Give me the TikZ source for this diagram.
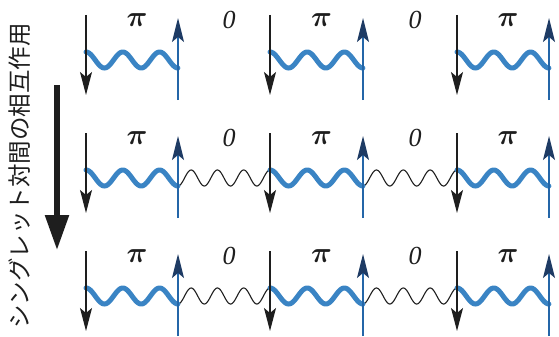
\RequirePackage{fix-cm}
\documentclass[tikz,border=0pt]{standalone}
\usepackage{fontspec}
\usepackage{bm}
\setmainfont{Liberation Serif}
\newfontfamily\jp{Noto Sans CJK JP}
\usetikzlibrary{arrows.meta}
\definecolor{wblue}{HTML}{3A84C4}
\definecolor{ublue}{HTML}{2466A8}
\definecolor{navy}{HTML}{1E3B64}
\definecolor{ink}{HTML}{1E1E1E}
\tikzset{
 bluewave/.style={wblue, line width=5pt, line cap=round},
 blackwave/.style={ink, line width=1.1pt},
 downspin/.style={ink, line width=1.3pt, -{Stealth[length=23pt,width=12pt,inset=5pt]}},
 upspin/.style={ublue, line width=1.5pt, -{Stealth[length=24pt,width=12pt,inset=5pt,color=navy]}},
 pilab/.style={font=\fontsize{29}{29}\selectfont, inner sep=0pt, text=ink},
 zerolab/.style={font=\fontsize{26}{26}\selectfont\itshape, inner sep=0pt, text=ink},
 bigarrow/.style={ink, line width=5.5pt, -{Triangle[length=35pt,width=23pt]}},
 title/.style={rotate=90, font=\jp\fontsize{23.5}{23.5}\selectfont, inner sep=0pt, text=ink},
}
\begin{document}
\begin{tikzpicture}[x=1pt,y=-1pt]
\useasboundingbox (0,0) rectangle (559,337);
\node[title] (ttl) at (20,176) {シングレット対間の相互作用};
\coordinate (bigS) at (57,85);
\coordinate (bigE) at (57,250);
\draw[bigarrow] (bigS) -- (bigE);
% black waves (rows 2 and 3)
\foreach \rr/\cy in {2/178,3/296}{
  \foreach \xa/\xb in {178/270, 363/457}{
    \draw[blackwave] plot[domain=0:1,samples=140,smooth] ({\xa+\x*(\xb-\xa)},{\cy+8*cos(\x*1260)});
  }
}
% blue waves, spins, labels
\foreach \rr/\cy in {1/60,2/178,3/296}{
  \foreach \kk/\xd/\xu in {1/86/178, 2/270/363, 3/457/549}{
    \draw[bluewave] plot[domain=0:1,samples=120,smooth] ({\xd+\x*(\xu-\xd)},{\cy-8*cos(\x*900)});
    \coordinate (d-\rr-\kk-t) at (\xd,\cy-45);
    \coordinate (d-\rr-\kk-b) at (\xd,\cy+35);
    \coordinate (u-\rr-\kk-b) at (\xu,\cy+40);
    \coordinate (u-\rr-\kk-t) at (\xu,\cy-42);
    \draw[downspin] (d-\rr-\kk-t) -- (d-\rr-\kk-b);
    \draw[upspin] (u-\rr-\kk-b) -- (u-\rr-\kk-t);
    \node[pilab] (pi-\rr-\kk) at ({(\xd+\xu)/2+5},\cy-40) {$\bm{\pi}$};
  }
  \foreach \kk/\xa/\xb in {1/178/270, 2/363/457}{
    \node[zerolab] (zero-\rr-\kk) at ({(\xa+\xb)/2+5},\cy-40) {0};
  }
}
\end{tikzpicture}
\end{document}
